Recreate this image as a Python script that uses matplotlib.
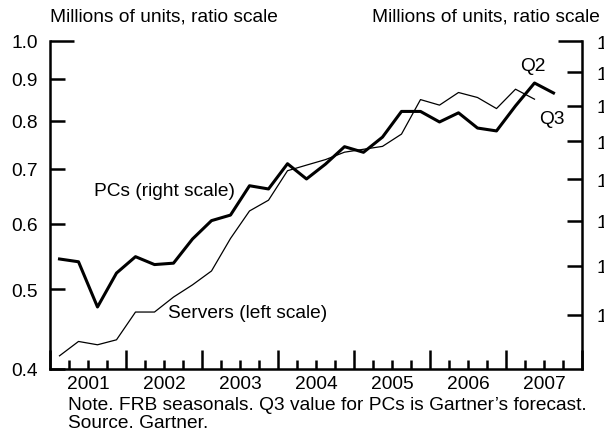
import matplotlib
matplotlib.use('Agg')
import matplotlib.pyplot as plt
from matplotlib.ticker import FixedLocator, FixedFormatter, NullLocator

plt.rcParams['font.family'] = ['Liberation Sans', 'DejaVu Sans']

# Quarterly data, first quarter is 2001 Q1
start_year = 2001
years = [2001, 2002, 2003, 2004, 2005, 2006, 2007]

# Servers, millions of units (left scale), through 2007 Q2
servers = [0.415, 0.432, 0.428, 0.434,
           0.469, 0.469, 0.489, 0.506,
           0.526, 0.576, 0.622, 0.641,
           0.696, 0.707, 0.718, 0.733,
           0.739, 0.745, 0.771, 0.849,
           0.836, 0.866, 0.854, 0.828,
           0.874, 0.850]

# PCs, millions of units (right scale), through 2007 Q3 (forecast)
pcs = [11.14, 11.08, 10.15, 10.84,
       11.19, 11.02, 11.05, 11.58,
       12.00, 12.13, 12.84, 12.76,
       13.40, 13.01, 13.39, 13.85,
       13.70, 14.11, 14.83, 14.83,
       14.53, 14.79, 14.36, 14.28,
       14.99, 15.67, 15.37]

left_ticks = [0.4, 0.5, 0.6, 0.7, 0.8, 0.9, 1.0]
left_labels = ['0.4', '0.5', '0.6', '0.7', '0.8', '0.9', '1.0']
right_ticks = [10, 11, 12, 13, 14, 15, 16, 17]
right_labels = ['10', '11', '12', '13', '14', '15', '16', '17']

FS = 13.8


def quarter_x(n):
    # mid-quarter positions in fractional years
    return [start_year + (i + 0.5) / 4 for i in range(n)]


W, H = 604, 435
fig = plt.figure(figsize=(W / 100, H / 100), dpi=100)
ax = fig.add_axes([50 / W, 1 - 370 / H, 532 / W, 328 / H])
ax2 = ax.twinx()

ax.plot(quarter_x(len(servers)), servers, color='black', linewidth=0.9)
ax2.plot(quarter_x(len(pcs)), pcs, color='black', linewidth=2.2)

ax.set_yscale('log')
ax2.set_yscale('log')
ax.set_ylim(0.4, 1.0)
ax2.set_ylim(9, 17)
ax.set_xlim(years[0], years[-1] + 1)

ax.yaxis.set_major_locator(FixedLocator(left_ticks))
ax.yaxis.set_major_formatter(FixedFormatter(left_labels))
ax.yaxis.set_minor_locator(NullLocator())
ax2.yaxis.set_major_locator(FixedLocator(right_ticks))
ax2.yaxis.set_major_formatter(FixedFormatter(right_labels))
ax2.yaxis.set_minor_locator(NullLocator())

# x axis: long ticks at year boundaries, short ticks at quarters,
# year labels sit on the mid-year quarter tick
year_edges = years + [years[-1] + 1]
quarter_ticks = []
quarter_labels = []
for y in years:
    for q in (0.25, 0.5, 0.75):
        quarter_ticks.append(y + q)
        quarter_labels.append(str(y) if q == 0.5 else '')
ax.xaxis.set_major_locator(FixedLocator(year_edges))
ax.xaxis.set_major_formatter(FixedFormatter([''] * len(year_edges)))
ax.xaxis.set_minor_locator(FixedLocator(quarter_ticks))
ax.xaxis.set_minor_formatter(FixedFormatter(quarter_labels))

for a in (ax, ax2):
    a.spines['top'].set_visible(False)
    for s in a.spines.values():
        s.set_linewidth(1.8)
ax.spines['right'].set_visible(False)
ax2.spines['left'].set_visible(False)
ax2.spines['bottom'].set_visible(False)

ax.tick_params(axis='y', which='major', direction='in', length=10.5, width=1.8,
               labelsize=FS, pad=8.6)
ax2.tick_params(axis='y', which='major', direction='in', length=10.5, width=1.8,
                labelsize=FS, pad=10.8)
ax.tick_params(axis='x', which='major', direction='in', length=13.5, width=1.8)
ax.tick_params(axis='x', which='minor', direction='in', length=6.5, width=1.8,
               labelsize=FS, pad=4)

# top ticks are drawn longer
ax.yaxis.get_major_ticks()[-1].tick1line.set_markersize(17)
ax2.yaxis.get_major_ticks()[-1].tick2line.set_markersize(17)

ax.text(2001.58, 0.658, 'PCs (right scale)', fontsize=FS, va='center')
ax.text(2002.55, 0.469, 'Servers (left scale)', fontsize=FS, va='center')
ax.text(2007.19, 0.933, 'Q2', fontsize=FS, va='center')
ax.text(2007.43, 0.805, 'Q3', fontsize=FS, va='center')

fig.text(50 / W, 1 - 17 / H, 'Millions of units, ratio scale', fontsize=FS,
         ha='left', va='center')
fig.text(600 / W, 1 - 17 / H, 'Millions of units, ratio scale', fontsize=FS,
         ha='right', va='center')
fig.text(68 / W, 1 - 406 / H,
         'Note. FRB seasonals. Q3 value for PCs is Gartner\u2019s forecast.',
         fontsize=FS, ha='left', va='center')
fig.text(68 / W, 1 - 424 / H, 'Source. Gartner.', fontsize=FS,
         ha='left', va='center')

fig.savefig('out.png', dpi=100)
